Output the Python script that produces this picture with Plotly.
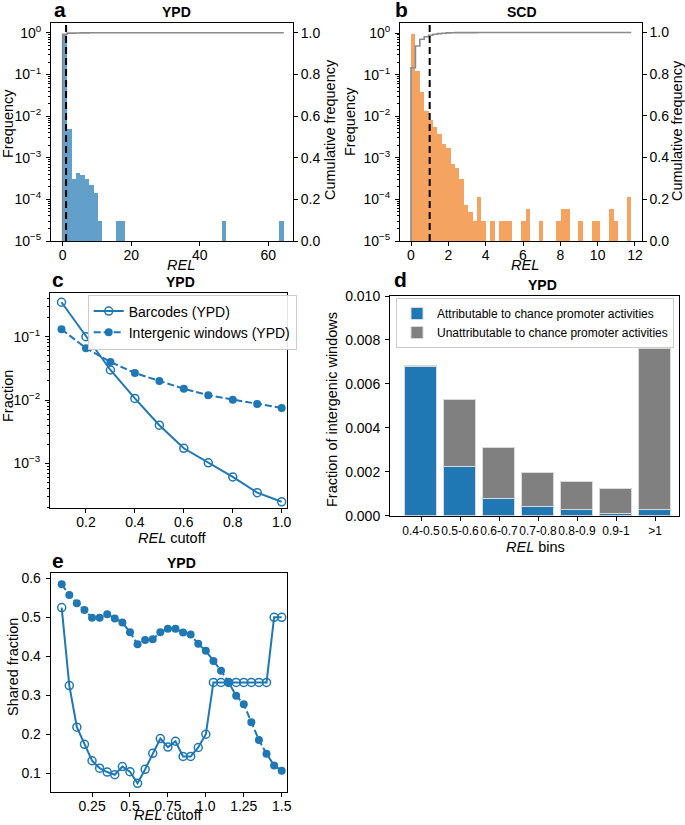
import numpy as np
import plotly.graph_objects as go

W, H = 685, 825
FONT = "Liberation Sans, Arial, sans-serif"

# ---------------- data ----------------
# panel a: YPD REL histogram (50 bins over 0 - 64.5)
ypd_rel_max = 64.5
ypd_freq = [0.97, 0.0049, 3.1e-4, 4.4e-4, 3.9e-4, 3.1e-4, 2.2e-4, 1.45e-4, 3.1e-5, 0,
            0, 0, 3.1e-5, 3.1e-5, 0, 0, 0, 0, 0, 0,
            0, 0, 0, 0, 0, 0, 0, 0, 0, 0,
            0, 0, 0, 0, 0, 0, 3.1e-5, 0, 0, 0,
            0, 0, 0, 0, 0, 0, 0, 0, 0, 3.1e-5]
# panel b: SCD REL histogram (50 bins over 0 - 11.8)
scd_rel_max = 11.8
scd_freq = [0.97, 0.122, 0.038, 0.0138, 0.0083, 0.0057, 0.0038, 0.0022, 0.00175, 7.2e-4,
            5.8e-4, 3.2e-4, 7.6e-5, 5.0e-5, 3.0e-5, 1.15e-4, 3.0e-5, 0, 3.0e-5, 0,
            3.0e-5, 3.0e-5, 3.0e-5, 0, 0, 3.0e-5, 6.0e-5, 0, 0, 3.0e-5,
            0, 0, 0, 3.0e-5, 6.0e-5, 6.0e-5, 0, 0, 3.0e-5, 0,
            0, 3.0e-5, 3.0e-5, 0, 0, 6.0e-5, 3.0e-5, 0, 0, 1.15e-4]
rel_threshold = 1.0

# panel c
c_cutoffs = [0.1, 0.2, 0.3, 0.4, 0.5, 0.6, 0.7, 0.8, 0.9, 1.0]
c_barcodes = [0.35, 0.10, 0.0298, 0.0106, 0.0040, 0.00173, 0.00102, 6.1e-4, 3.44e-4, 2.47e-4]
c_windows = [0.131, 0.066, 0.040, 0.0267, 0.020, 0.0151, 0.0119, 0.0101, 0.00865, 0.00748]

# panel d
d_bins = ["0.4-0.5", "0.5-0.6", "0.6-0.7", "0.7-0.8", "0.8-0.9", "0.9-1", ">1"]
d_attrib = [0.00678, 0.00222, 0.00076, 0.00039, 0.00027, 0.00009, 0.00026]
d_total = [0.00680, 0.00528, 0.00310, 0.00194, 0.00153, 0.00121, 0.00759]

# panel e
e_cutoffs = [0.05, 0.10, 0.15, 0.20, 0.25, 0.30, 0.35, 0.40, 0.45, 0.50,
             0.55, 0.60, 0.65, 0.70, 0.75, 0.80, 0.85, 0.90, 0.95, 1.00,
             1.05, 1.10, 1.15, 1.20, 1.25, 1.30, 1.35, 1.40, 1.45, 1.50]
e_barcodes = [0.525, 0.325, 0.218, 0.174, 0.132, 0.113, 0.103, 0.096, 0.117, 0.104,
              0.074, 0.110, 0.151, 0.189, 0.167, 0.182, 0.143, 0.143, 0.166, 0.200,
              0.333, 0.333, 0.333, 0.333, 0.333, 0.333, 0.333, 0.333, 0.500, 0.500]
e_windows = [0.585, 0.557, 0.536, 0.519, 0.499, 0.499, 0.508, 0.497, 0.487, 0.462,
             0.431, 0.442, 0.444, 0.462, 0.471, 0.471, 0.461, 0.456, 0.432, 0.414,
             0.388, 0.363, 0.333, 0.299, 0.277, 0.231, 0.185, 0.150, 0.120, 0.106]

BLUE = "#1f77b4"
HBLUE = "rgba(31,119,180,0.7)"
ORANGE = "#F4A460"
GRAY = "#808080"

# ---------------- helpers ----------------
def xd(a, b):
    return [a / W, b / W]

def yd(top, bottom):
    return [1 - bottom / H, 1 - top / H]

def sup(e):
    return "10<sup>%s</sup>" % (("\u2212%d" % -e) if e < 0 else str(e))

def log_minor(e0, e1):
    return [k * 10.0 ** e for e in range(e0, e1) for k in range(2, 10)]

fig = go.Figure()

def hist_panel(freq, rmax, xa, ya, ya2, color):
    n = len(freq)
    edges = np.linspace(0, rmax, n + 1)
    centers = (edges[:-1] + edges[1:]) / 2
    w = edges[1] - edges[0]
    yv = [v if v > 0 else None for v in freq]
    fig.add_trace(go.Bar(x=centers, y=yv, width=w, marker=dict(color=color, line=dict(width=0)),
                         xaxis=xa, yaxis=ya, showlegend=False))
    f = np.array(freq)
    cum = np.cumsum(f) / f.sum()
    cx = np.concatenate([[0.0, 0.0], edges[1:], [rmax * 1.2]])
    cy = np.concatenate([[0.0], cum, [cum[-1]]])
    fig.add_trace(go.Scatter(x=cx, y=cy, mode="lines", line=dict(color="#8a8a8a", width=1.6, shape="hv"),
                             xaxis=xa, yaxis=ya2, showlegend=False))
    fig.add_shape(type="line", x0=rel_threshold, x1=rel_threshold, y0=0, y1=1,
                  xref=xa, yref=ya + " domain", line=dict(color="black", width=2, dash="7px,4px"))

hist_panel(ypd_freq, ypd_rel_max, "x", "y", "y2", HBLUE)
hist_panel(scd_freq, scd_rel_max, "x2", "y3", "y4", ORANGE)

# panel c
fig.add_trace(go.Scatter(x=c_cutoffs, y=c_barcodes, mode="lines+markers", name="Barcodes (YPD)",
                         line=dict(color=BLUE, width=2),
                         marker=dict(symbol="circle-open", size=8, color=BLUE, line=dict(width=1.5)),
                         xaxis="x3", yaxis="y5", legend="legend"))
fig.add_trace(go.Scatter(x=c_cutoffs, y=c_windows, mode="lines+markers", name="Intergenic windows (YPD)",
                         line=dict(color=BLUE, width=2, dash="7px,3px"),
                         marker=dict(symbol="circle", size=8, color=BLUE),
                         xaxis="x3", yaxis="y5", legend="legend"))

# panel d (gray total behind, blue attributable in front)
fig.add_trace(go.Bar(x=d_bins, y=d_total, width=0.8, name="Unattributable to chance promoter activities",
                     marker=dict(color=GRAY, line=dict(color="#d9d9d9", width=1)),
                     xaxis="x4", yaxis="y6", legend="legend2", legendrank=2))
fig.add_trace(go.Bar(x=d_bins, y=d_attrib, width=0.8, name="Attributable to chance promoter activities",
                     marker=dict(color=BLUE, line=dict(color="#d9d9d9", width=1)),
                     xaxis="x4", yaxis="y6", legend="legend2", legendrank=1))

# panel e
fig.add_trace(go.Scatter(x=e_cutoffs, y=e_barcodes, mode="lines+markers", showlegend=False,
                         line=dict(color=BLUE, width=2),
                         marker=dict(symbol="circle-open", size=8, color=BLUE, line=dict(width=1.5)),
                         xaxis="x5", yaxis="y7"))
fig.add_trace(go.Scatter(x=e_cutoffs, y=e_windows, mode="lines+markers", showlegend=False,
                         line=dict(color=BLUE, width=2, dash="7px,3px"),
                         marker=dict(symbol="circle", size=8, color=BLUE),
                         xaxis="x5", yaxis="y7"))

# ---------------- axes ----------------
tickfont = dict(family=FONT, size=14, color="black")
base = dict(showline=True, linecolor="black", linewidth=1, mirror=True, ticks="outside",
            ticklen=4, tickwidth=1, tickcolor="black", showgrid=False, zeroline=False,
            tickfont=tickfont, automargin=False)
bx = dict(base, ticklabelstandoff=-3)
byl = dict(base, ticklabelstandoff=2)

def minor(vals):
    return dict(tickmode="array", tickvals=vals, ticks="outside", ticklen=2.5, tickwidth=0.8,
                tickcolor="black", showgrid=False)

logt = [-5, -4, -3, -2, -1, 0]
cumt = [0.0, 0.2, 0.4, 0.6, 0.8, 1.0]

lay = dict(
    xaxis=dict(bx, domain=xd(51, 293), anchor="y", range=[-3.4, 67.2],
               tickvals=[0, 20, 40, 60]),
    yaxis=dict(byl, domain=yd(23, 241), anchor="x", type="log", range=[-5, 0.24],
               tickvals=[10.0 ** e for e in logt], ticktext=[sup(e) for e in logt],
               minor=minor(log_minor(-5, 1)), mirror=False),
    yaxis2=dict(base, overlaying="y", side="right", anchor="x", range=[0, 1.0467],
                tickvals=cumt, ticktext=["%.1f" % v for v in cumt], mirror=False),
    xaxis2=dict(bx, domain=xd(400, 641.7), anchor="y3", range=[-0.59, 12.36],
                tickvals=[0, 2, 4, 6, 8, 10, 12]),
    yaxis3=dict(byl, domain=yd(22.7, 241), anchor="x2", type="log", range=[-5, 0.248],
                tickvals=[10.0 ** e for e in logt], ticktext=[sup(e) for e in logt],
                minor=minor(log_minor(-5, 1)), mirror=False),
    yaxis4=dict(base, overlaying="y3", side="right", anchor="x2", range=[0, 1.0467],
                tickvals=cumt, ticktext=["%.1f" % v for v in cumt], mirror=False),
    xaxis3=dict(bx, domain=xd(50, 287.3), anchor="y5", range=[0.053, 1.023],
                tickvals=[0.2, 0.4, 0.6, 0.8, 1.0], ticktext=["0.2", "0.4", "0.6", "0.8", "1.0"]),
    yaxis5=dict(byl, domain=yd(292.7, 508.3), anchor="x3", type="log", range=[-3.71, -0.305],
                tickvals=[1e-3, 1e-2, 1e-1], ticktext=[sup(-3), sup(-2), sup(-1)],
                minor=minor(log_minor(-4, 0))),
    xaxis4=dict(base, domain=xd(390, 679), anchor="y6", type="category", range=[-0.795, 6.615],
                tickangle=0, tickfont=dict(family=FONT, size=12, color="black")),
    yaxis6=dict(byl, domain=yd(296, 515.7), anchor="x4", range=[0, 0.010],
                tickvals=[0, 0.002, 0.004, 0.006, 0.008, 0.010], tickformat=".3f"),
    xaxis5=dict(bx, domain=xd(50.7, 287.3), anchor="y7", range=[-0.0225, 1.537],
                tickvals=[0.25, 0.5, 0.75, 1.0, 1.25, 1.5],
                ticktext=["0.25", "0.5", "0.75", "1.0", "1.25", "1.5"]),
    yaxis7=dict(byl, domain=yd(573.3, 792.3), anchor="x5", range=[0.051, 0.613],
                tickvals=[0.1, 0.2, 0.3, 0.4, 0.5, 0.6], tickformat=".1f"),
)
fig.update_layout(**lay)

# ---------------- text ----------------
anns = []
def ann(text, x, y, size=14.5, bold=False, angle=0, xanchor="center"):
    if bold:
        text = "<b>%s</b>" % text
    anns.append(dict(text=text, x=x / W, y=1 - y / H, xref="paper", yref="paper",
                     xanchor=xanchor, yanchor="middle", showarrow=False, textangle=angle,
                     font=dict(family=FONT, size=size, color="black")))

# panel a
ann("a", 52, 10, 21, True, xanchor="left")
ann("YPD", 176.5, 12, 14, True)
ann("Frequency", 8, 124, angle=-90)
ann("Cumulative frequency", 330, 130, angle=-90)
ann("<i>REL</i>", 181, 265)
# panel b
ann("b", 393, 10, 21, True, xanchor="left")
ann("SCD", 522, 12, 14, True)
ann("Frequency", 350, 122, angle=-90)
ann("Cumulative frequency", 677, 131, angle=-90)
ann("<i>REL</i>", 525, 265)
# panel c
ann("c", 50, 280, 21, True, xanchor="left")
ann("YPD", 180, 282, 14, True)
ann("Fraction", 8, 396, angle=-90)
ann("<i>REL</i> cutoff", 172, 538)
# panel d
ann("d", 392, 280, 21, True, xanchor="left")
ann("YPD", 542, 285, 14, True)
ann("Fraction of intergenic windows", 332, 410, angle=-90)
ann("<i>REL</i> bins", 535, 547)
# panel e
ann("e", 50, 560, 21, True, xanchor="left")
ann("YPD", 181, 563, 14, True)
ann("Shared fraction", 13, 667, angle=-90)
ann("<i>REL</i> cutoff", 168, 815)

fig.update_layout(
    annotations=anns,
    width=W, height=H, margin=dict(l=0, r=0, t=0, b=0, autoexpand=False),
    paper_bgcolor="white", plot_bgcolor="white",
    barmode="overlay", bargap=0,
    font=dict(family=FONT, size=14, color="black"),
    legend=dict(x=87.7 / W, y=1 - 294.5 / H, xanchor="left", yanchor="top",
                bgcolor="rgba(255,255,255,0.9)", bordercolor="#cccccc", borderwidth=1,
                font=dict(family=FONT, size=14, color="black"), tracegroupgap=0, itemwidth=30),
    legend2=dict(x=396 / W, y=1 - 298 / H, xanchor="left", yanchor="top",
                 bgcolor="rgba(255,255,255,0.9)", bordercolor="#cccccc", borderwidth=1,
                 font=dict(family=FONT, size=12, color="black"), tracegroupgap=0, itemwidth=30),
)

fig.write_html("out.html", config={"displayModeBar": False},
               post_script="document.body.style.margin='0';document.body.style.overflow='hidden';")
